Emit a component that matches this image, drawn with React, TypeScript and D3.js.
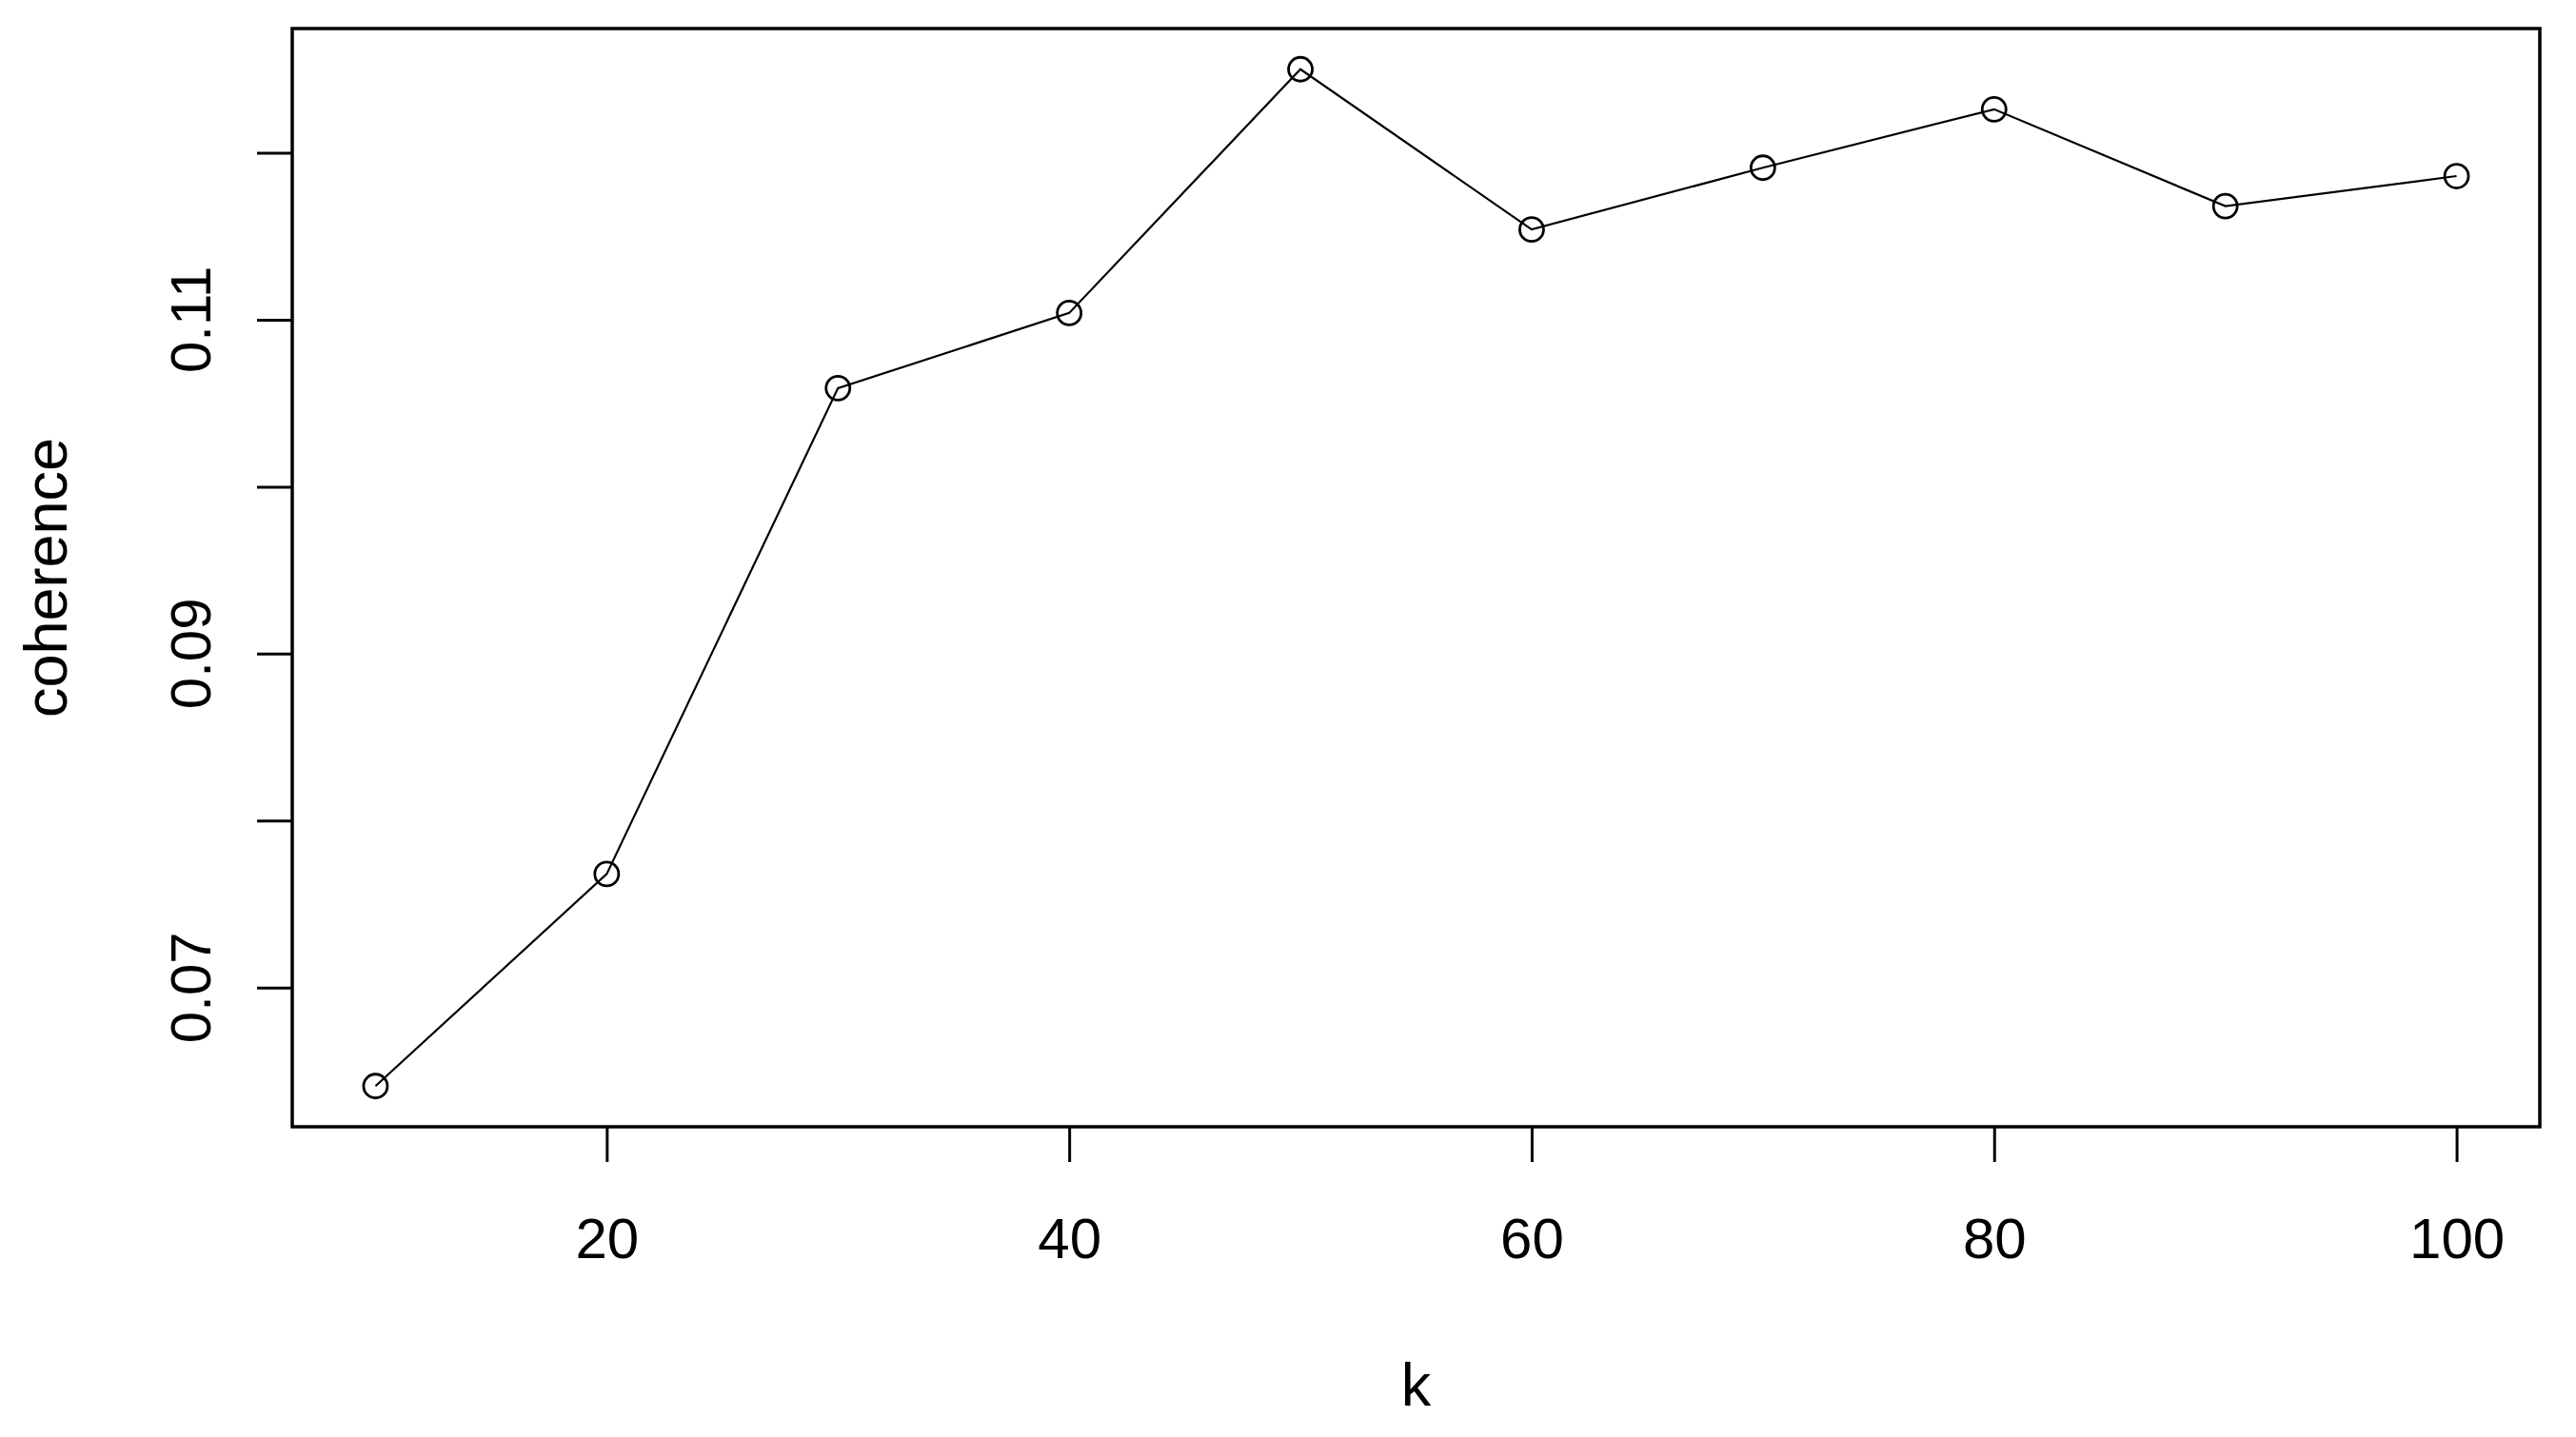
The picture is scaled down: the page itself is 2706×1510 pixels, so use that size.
import React, { useEffect, useRef } from 'react';
import * as d3 from 'd3';

// values
const kValues = [10, 20, 30, 40, 50, 60, 70, 80, 90, 100];
const coherence = [0.0641, 0.0768, 0.1059, 0.1104, 0.1250, 0.1154, 0.1191, 0.1226, 0.1168, 0.1186];
const xTicks = [20, 40, 60, 80, 100];
const yTicks = [0.07, 0.08, 0.09, 0.10, 0.11, 0.12];
const yTickLabels = ['0.07', '', '0.09', '', '0.11', ''];

export default function App() {
    const ref = useRef<SVGSVGElement>(null);

    useEffect(() => {
        document.body.style.margin = '0';

        const width = 2706;
        const height = 1510;
        const margin = { top: 30, right: 38, bottom: 326, left: 307 };
        const font = '"Liberation Sans", Arial, sans-serif';

        const svg = d3.select(ref.current);
        svg.selectAll('*').remove();
        svg.attr('width', width).attr('height', height);

        const innerW = width - margin.left - margin.right;
        const innerH = height - margin.top - margin.bottom;

        // R style 4% padding on both axes
        const xExt = d3.extent(kValues) as [number, number];
        const yExt = d3.extent(coherence) as [number, number];
        const xPad = (xExt[1] - xExt[0]) * 0.04;
        const yPad = (yExt[1] - yExt[0]) * 0.04;

        const x = d3.scaleLinear()
            .domain([xExt[0] - xPad, xExt[1] + xPad])
            .range([margin.left, margin.left + innerW]);
        const y = d3.scaleLinear()
            .domain([yExt[0] - yPad, yExt[1] + yPad])
            .range([margin.top + innerH, margin.top]);

        // box
        svg.append('rect')
            .attr('x', margin.left)
            .attr('y', margin.top)
            .attr('width', innerW)
            .attr('height', innerH)
            .attr('fill', 'none')
            .attr('stroke', 'black')
            .attr('stroke-width', 3.5);

        // x axis
        const xAxis = d3.axisBottom(x)
            .tickValues(xTicks)
            .tickSize(37)
            .tickFormat(d => String(d));

        const gx = svg.append('g')
            .attr('transform', `translate(0,${margin.top + innerH})`)
            .call(xAxis);
        gx.select('.domain').remove();
        gx.selectAll('line').attr('stroke', 'black').attr('stroke-width', 3);
        gx.selectAll('text')
            .attr('fill', 'black')
            .attr('dy', null)
            .attr('y', 138)
            .style('font-family', font)
            .style('font-size', '60px');

        // y axis
        const yAxis = d3.axisLeft(y)
            .tickValues(yTicks)
            .tickSize(37)
            .tickFormat(() => '');

        const gy = svg.append('g')
            .attr('transform', `translate(${margin.left},0)`)
            .call(yAxis);
        gy.select('.domain').remove();
        gy.selectAll('line').attr('stroke', 'black').attr('stroke-width', 3);
        gy.selectAll('text').remove();

        // rotated y tick labels, like R's default las=0
        svg.append('g')
            .selectAll('text')
            .data(yTicks)
            .enter()
            .append('text')
            .attr('transform', (d) => `translate(221,${y(d)}) rotate(-90)`)
            .attr('text-anchor', 'middle')
            .style('font-family', font)
            .style('font-size', '60px')
            .attr('fill', 'black')
            .text((d, i) => yTickLabels[i]);

        // line + points
        const line = d3.line<number>()
            .x((d, i) => x(kValues[i]))
            .y(d => y(d));

        svg.append('path')
            .datum(coherence)
            .attr('d', line)
            .attr('fill', 'none')
            .attr('stroke', 'black')
            .attr('stroke-width', 2.2);

        svg.append('g')
            .selectAll('circle')
            .data(coherence)
            .enter()
            .append('circle')
            .attr('cx', (d, i) => x(kValues[i]))
            .attr('cy', d => y(d))
            .attr('r', 12.5)
            .attr('fill', 'none')
            .attr('stroke', 'black')
            .attr('stroke-width', 2.8);

        // axis titles
        svg.append('text')
            .attr('x', margin.left + innerW / 2)
            .attr('y', 1477)
            .attr('text-anchor', 'middle')
            .style('font-family', font)
            .style('font-size', '63px')
            .attr('fill', 'black')
            .text('k');

        svg.append('text')
            .attr('transform', `translate(70,${margin.top + innerH / 2}) rotate(-90)`)
            .attr('text-anchor', 'middle')
            .style('font-family', font)
            .style('font-size', '63px')
            .attr('fill', 'black')
            .text('coherence');
    }, []);

    return (
        <div>
            <svg ref={ref} style={{ display: 'block' }} />
        </div>
    );
}
